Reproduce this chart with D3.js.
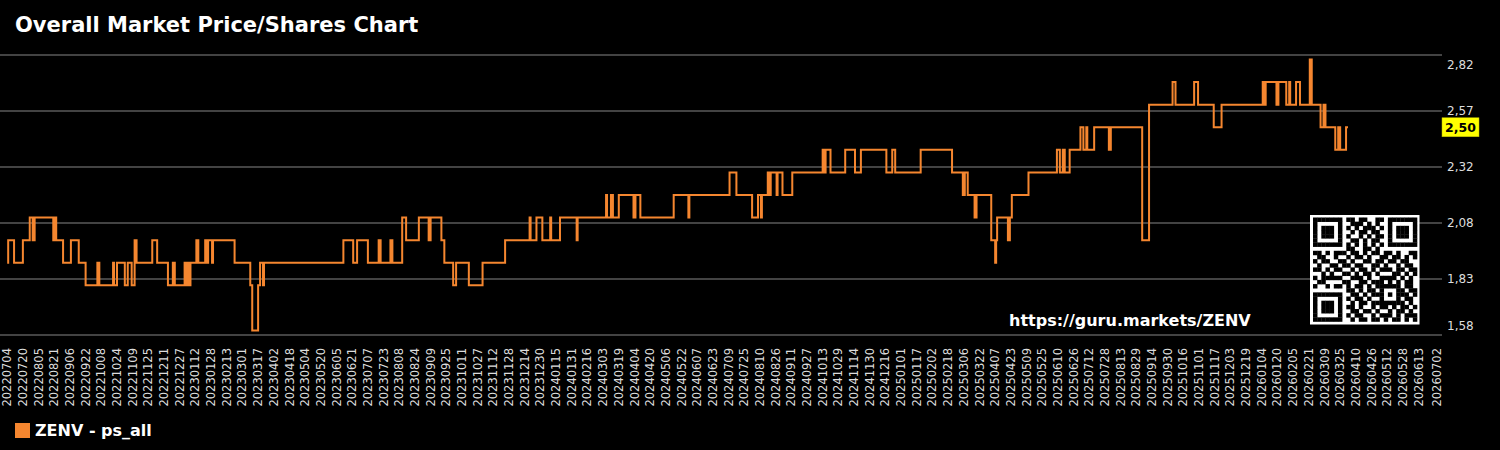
<!DOCTYPE html>
<html>
<head>
<meta charset="utf-8">
<script src="https://cdn.jsdelivr.net/npm/d3@7"></script>
<style>
body { margin: 0; background: #000; }
svg { display: block; font-family: "DejaVu Sans", sans-serif; }
</style>
</head>
<body>
<div id="chart"></div>
<script>
// dates where the price/shares value changes, and the value from that day on
let changeDates = [
	'20220704','20220705','20220711','20220720','20220727','20220730','20220801','20220820','20220822','20220823',
	'20220830','20220907','20220915','20220922','20221004','20221006','20221020','20221021','20221024','20221101',
	'20221104','20221108','20221111','20221113','20221129','20221204','20221215','20221220','20221222','20230101',
	'20230102','20230104','20230105','20230107','20230113','20230115','20230122','20230124','20230125','20230129',
	'20230130','20230221','20230309','20230311','20230317','20230319','20230322','20230323','20230612','20230622',
	'20230626','20230707','20230718','20230720','20230730','20230801','20230811','20230815','20230828','20230907',
	'20230909','20230920','20230923','20231002','20231005','20231018','20231101','20231124','20231219','20231220',
	'20231226','20240101','20240109','20240110','20240119','20240205','20240206','20240306','20240307','20240311',
	'20240313','20240319','20240403','20240405','20240410','20240514','20240529','20240530','20240710','20240717',
	'20240802','20240808','20240811','20240812','20240818','20240820','20240821','20240827','20240828','20240902',
	'20240912','20241013','20241015','20241016','20241021','20241105','20241115','20241121','20241217','20241223',
	'20241226','20250121','20250222','20250305','20250307','20250310','20250317','20250319','20250403','20250407',
	'20250408','20250409','20250420','20250422','20250424','20250511','20250609','20250612','20250615','20250617',
	'20250622','20250703','20250706','20250709','20250710','20250717','20250801','20250803','20250904','20250911',
	'20251005','20251008','20251027','20251031','20251116','20251124','20260105','20260107','20260108','20260119',
	'20260121','20260129','20260201','20260202','20260208','20260212','20260222','20260224','20260305','20260308',
	'20260310','20260320','20260323','20260325','20260331','20260402'
]
let changeValues = [
	1.9,2.0,1.9,2.0,2.1,2.0,2.1,2.0,2.1,2.0,
	1.9,2.0,1.9,1.8,1.9,1.8,1.9,1.8,1.9,1.8,
	1.9,1.8,2.0,1.9,2.0,1.9,1.8,1.9,1.8,1.9,
	1.8,1.9,1.8,1.9,2.0,1.9,2.0,1.9,2.0,1.9,
	2.0,1.9,1.8,1.6,1.8,1.9,1.8,1.9,2.0,1.9,
	2.0,1.9,2.0,1.9,2.0,1.9,2.1,2.0,2.1,2.0,
	2.1,2.0,1.9,1.8,1.9,1.8,1.9,2.0,2.1,2.0,
	2.1,2.0,2.1,2.0,2.1,2.0,2.1,2.2,2.1,2.2,
	2.1,2.2,2.1,2.2,2.1,2.2,2.1,2.2,2.3,2.2,
	2.1,2.2,2.1,2.2,2.3,2.2,2.3,2.2,2.3,2.2,
	2.3,2.4,2.3,2.4,2.3,2.4,2.3,2.4,2.3,2.4,
	2.3,2.4,2.3,2.2,2.3,2.2,2.1,2.2,2.0,1.9,
	2.0,2.1,2.0,2.1,2.2,2.3,2.4,2.3,2.4,2.3,
	2.4,2.5,2.4,2.5,2.4,2.5,2.4,2.5,2.0,2.6,
	2.7,2.6,2.7,2.6,2.5,2.6,2.7,2.6,2.7,2.6,
	2.7,2.6,2.7,2.6,2.7,2.6,2.8,2.6,2.5,2.6,
	2.5,2.4,2.5,2.4,2.5,2.5
]
let lastValue = 2.50

let yTicks = [1.58, 1.828, 2.076, 2.324, 2.572, 2.82]

let xTickLabels = [
	'20220704','20220720','20220805','20220821','20220906','20220922','20221008','20221024','20221109','20221125',
	'20221211','20221227','20230112','20230128','20230213','20230301','20230317','20230402','20230418','20230504',
	'20230520','20230605','20230621','20230707','20230723','20230808','20230824','20230909','20230925','20231011',
	'20231027','20231112','20231128','20231214','20231230','20240115','20240131','20240216','20240303','20240319',
	'20240404','20240420','20240506','20240522','20240607','20240623','20240709','20240725','20240810','20240826',
	'20240911','20240927','20241013','20241029','20241114','20241130','20241216','20250101','20250117','20250202',
	'20250218','20250306','20250322','20250407','20250423','20250509','20250525','20250610','20250626','20250712',
	'20250728','20250813','20250829','20250914','20250930','20251016','20251101','20251117','20251203','20251219',
	'20260104','20260120','20260205','20260221','20260309','20260325','20260410','20260426','20260512','20260528',
	'20260613','20260702'
]

let qrRows = [
	'1111111 0 110110011 0 1111111',
	'1000001 0 011101010 0 1000001',
	'1011101 0 101011101 0 1011101',
	'1011101 0 010110110 0 1011101',
	'1011101 0 100101011 0 1011101',
	'1000001 0 011010110 0 1000001',
	'1111111 0 101010101 0 1111111',
	'0000000 0 110011010 0 0000000',
	'1101011 1 011010110 1 1010011',
	'0110010 0 101101001 1 0110101',
	'1011001 1 010011011 0 1101100',
	'0100110 1 101100110 1 0010110',
	'1101011 0 010110101 1 1011011',
	'0010100 1 101011010 0 0110101',
	'1011111 0 011101001 1 1101010',
	'0110000 1 100110111 0 1010110',
	'1001011 0 10110101 11111 0110',
	'0000000 0 11010110 10001 1011',
	'1111111 0 01101011 10101 1101',
	'1000001 0 10110100 10001 0110',
	'1011101 0 01011011 11111 1010',
	'1011101 0 11010010110101101',
	'1011101 0 01101101001011010',
	'1000001 0 10110010111010111',
	'1111111 0 01011011010110101'
]

let lineColour = '#f5862f'

function init(){
	let parse = d3.timeParse('%Y%m%d')
	let data = changeDates.map(function(d,i){
		return {'date':parse(d),'value':changeValues[i]}
	})
	drawChart(data, parse)
}

function drawChart(data, parse){
	let width = 1500, height = 450
	let top = 55, bottom = 335

	let svg = d3.select('#chart')
	  .append('svg')
	    .attr('width', width)
	    .attr('height', height)
	    .style('background', '#000')

	let x = d3.scaleTime()
	  .domain([parse(xTickLabels[0]), parse(xTickLabels[xTickLabels.length-1])])
	  .range([7.2, 1437.2])

	let y = d3.scaleLinear()
	  .domain([yTicks[0], yTicks[yTicks.length-1]])
	  .range([bottom, top])

	let fmt = d3.formatLocale({decimal: ',', thousands: '.', grouping: [3], currency: ['', '']}).format('.2f')

	// title
	svg.append('text')
	  .attr('x', 15)
	  .attr('y', 32)
	  .attr('fill', '#fff')
	  .attr('font-size', '21px')
	  .attr('font-weight', 'bold')
	  .text('Overall Market Price/Shares Chart')

	// grid
	svg.selectAll('.grid')
	  .data(yTicks)
	  .enter()
	  .append('line')
	  .attr('x1', 0)
	  .attr('x2', 1442)
	  .attr('y1', function(d){ return y(d) })
	  .attr('y2', function(d){ return y(d) })
	  .attr('stroke', '#5a5a5a')
	  .attr('stroke-width', 1.5)

	// right axis labels, end ones pulled inside the plot
	svg.selectAll('.ylab')
	  .data(yTicks)
	  .enter()
	  .append('text')
	  .attr('x', 1447)
	  .attr('y', function(d){ return Math.min(Math.max(y(d), top + 10), bottom - 9) })
	  .attr('dy', '0.35em')
	  .attr('fill', '#ddd')
	  .attr('font-size', '12px')
	  .text(function(d){ return fmt(d) })

	// x labels
	svg.selectAll('.xlab')
	  .data(xTickLabels)
	  .enter()
	  .append('text')
	  .attr('transform', function(d){ return 'translate(' + x(parse(d)) + ',348) rotate(-90)' })
	  .attr('text-anchor', 'end')
	  .attr('dy', '0.35em')
	  .attr('fill', '#ddd')
	  .attr('font-size', '11.5px')
	  .text(function(d){ return d })

	// the series
	svg.append('path')
	  .datum(data)
	  .attr('fill', 'none')
	  .attr('stroke', lineColour)
	  .attr('stroke-width', 2)
	  .attr('stroke-linejoin', 'miter')
	  .attr('d', d3.line()
	    .x(function(d){ return x(d.date) })
	    .y(function(d){ return y(d.value) })
	    .curve(d3.curveStepAfter)
	  )

	drawQr(svg)

	svg.append('text')
	  .attr('x', 1009)
	  .attr('y', 326)
	  .attr('fill', '#fff')
	  .attr('font-size', '16px')
	  .attr('font-weight', 'bold')
	  .text('https://guru.markets/ZENV')

	// current value tag
	svg.append('rect')
	  .attr('x', 1442)
	  .attr('y', y(lastValue) - 9.5)
	  .attr('width', 37)
	  .attr('height', 19)
	  .attr('fill', '#ffff00')
	  .attr('stroke', '#b8b800')
	  .attr('stroke-width', 0.5)
	svg.append('text')
	  .attr('x', 1460.5)
	  .attr('y', y(lastValue))
	  .attr('dy', '0.36em')
	  .attr('text-anchor', 'middle')
	  .attr('font-size', '12.5px')
	  .attr('font-weight', 'bold')
	  .attr('fill', '#000')
	  .text(fmt(lastValue))

	// legend
	svg.append('rect')
	  .attr('x', 15)
	  .attr('y', 423)
	  .attr('width', 15)
	  .attr('height', 15)
	  .attr('fill', lineColour)
	svg.append('text')
	  .attr('x', 35)
	  .attr('y', 436)
	  .attr('fill', '#fff')
	  .attr('font-size', '16px')
	  .attr('font-weight', 'bold')
	  .text('ZENV - ps_all')
}

function drawQr(svg){
	let rows = qrRows.map(function(r){ return r.replace(/ /g, '') })
	let n = rows.length
	let cells = []
	rows.forEach(function(r,i){
		r.split('').forEach(function(c,j){
			if(c=='1'){ cells.push({'row':i,'col':j}) }
		})
	})

	let qx = d3.scaleBand().domain(d3.range(n)).range([1313, 1417])
	let qy = d3.scaleBand().domain(d3.range(n)).range([217.5, 321.5])

	svg.append('rect')
	  .attr('x', 1310)
	  .attr('y', 215)
	  .attr('width', 109.5)
	  .attr('height', 109.5)
	  .attr('fill', '#fff')

	svg.selectAll('.qr')
	  .data(cells)
	  .enter()
	  .append('rect')
	  .attr('x', function(d){ return qx(d.col) })
	  .attr('y', function(d){ return qy(d.row) })
	  .attr('width', qx.bandwidth() + 0.3)
	  .attr('height', qy.bandwidth() + 0.3)
	  .attr('fill', '#000')
}

init()
</script>
</body>
</html>
